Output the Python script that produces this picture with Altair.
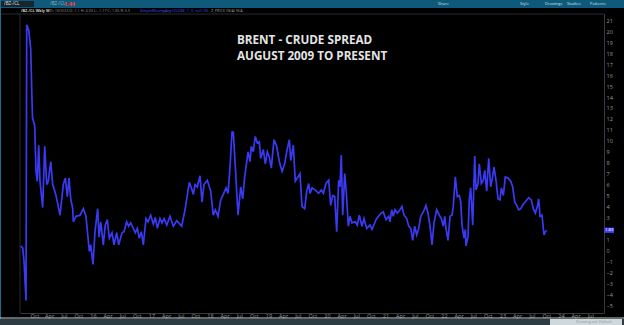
import altair as alt
import pandas as pd

# ---- data (decimal year, Brent - WTI spread in $) ----
t = [2014.764, 2014.798, 2014.821, 2014.855, 2014.867, 2014.901, 2014.935, 2014.957, 2014.966, 2015.003,
     2015.026, 2015.048, 2015.072, 2015.094, 2015.140, 2015.174, 2015.209, 2015.236, 2015.277, 2015.311,
     2015.368, 2015.402, 2015.436, 2015.492, 2015.527, 2015.561, 2015.590, 2015.619, 2015.653, 2015.663,
     2015.709, 2015.778, 2015.834, 2015.880, 2015.937, 2015.961, 2016.000, 2016.034, 2016.080, 2016.103,
     2016.132, 2016.176, 2016.210, 2016.244, 2016.279, 2016.325, 2016.359, 2016.405, 2016.439, 2016.496,
     2016.530, 2016.576, 2016.610, 2016.644, 2016.689, 2016.723, 2016.757, 2016.791, 2016.826, 2016.860,
     2016.906, 2016.940, 2016.986, 2017.031, 2017.065, 2017.099, 2017.145, 2017.180, 2017.214, 2017.260,
     2017.316, 2017.373, 2017.431, 2017.516, 2017.573, 2017.646, 2017.687, 2017.715, 2017.744, 2017.783,
     2017.829, 2017.863, 2017.897, 2017.954, 2018.012, 2018.056, 2018.091, 2018.137, 2018.183, 2018.227,
     2018.274, 2018.308, 2018.342, 2018.376, 2018.398, 2018.433, 2018.479, 2018.525, 2018.559, 2018.593,
     2018.650, 2018.684, 2018.706, 2018.740, 2018.774, 2018.809, 2018.843, 2018.867, 2018.911, 2018.945,
     2018.980, 2019.014, 2019.048, 2019.094, 2019.140, 2019.185, 2019.231, 2019.277, 2019.311, 2019.356,
     2019.380, 2019.424, 2019.458, 2019.504, 2019.538, 2019.573, 2019.619, 2019.653, 2019.687, 2019.709,
     2019.744, 2019.800, 2019.858, 2019.903, 2019.937, 2019.983, 2020.029, 2020.063, 2020.097, 2020.132,
     2020.166, 2020.200, 2020.222, 2020.244, 2020.268, 2020.303, 2020.330, 2020.364, 2020.393, 2020.427,
     2020.484, 2020.518, 2020.552, 2020.598, 2020.632, 2020.679, 2020.735, 2020.769, 2020.838, 2020.894,
     2020.928, 2020.962, 2021.009, 2021.055, 2021.077, 2021.106, 2021.133, 2021.162, 2021.202, 2021.248,
     2021.282, 2021.316, 2021.362, 2021.397, 2021.431, 2021.465, 2021.499, 2021.533, 2021.568, 2021.602,
     2021.646, 2021.692, 2021.726, 2021.761, 2021.795, 2021.829, 2021.875, 2021.920, 2021.954, 2021.988,
     2022.012, 2022.034, 2022.068, 2022.103, 2022.137, 2022.159, 2022.193, 2022.227, 2022.262, 2022.286,
     2022.308, 2022.342, 2022.364, 2022.376, 2022.410, 2022.432, 2022.456, 2022.491, 2022.525, 2022.547,
     2022.581, 2022.603, 2022.638, 2022.672, 2022.696, 2022.730, 2022.764, 2022.798, 2022.821, 2022.855,
     2022.889, 2022.923, 2022.957, 2022.980, 2023.014, 2023.048, 2023.094, 2023.140, 2023.174, 2023.209,
     2023.243, 2023.277, 2023.311, 2023.356, 2023.402, 2023.448, 2023.492, 2023.527, 2023.561, 2023.595,
     2023.619, 2023.641, 2023.675, 2023.709, 2023.732, 2023.756]
v = [0.4, 0.2, -1.0, -4.6, 20.6, 20.1, 18.4, 13.7, 12.1, 11.4,
     7.2, 6.3, 9.6, 6.3, 3.9, 9.5, 6.0, 6.3, 8.1, 6.0,
     5.0, 4.1, 3.2, 6.0, 6.6, 4.9, 6.6, 4.7, 3.8, 2.6,
     3.1, 3.2, 3.8, 3.1, -0.1, 0.5, -1.3, 1.7, 3.8, 1.2,
     2.6, 0.5, 2.3, 2.8, 1.1, 1.6, 0.5, 1.6, 0.5, 1.6,
     1.7, 2.6, 2.2, 2.5, 2.0, 1.6, 2.0, 1.1, 1.7, 0.5,
     2.9, 2.6, 3.2, 2.4, 3.0, 2.0, 2.9, 2.5, 2.9, 2.3,
     3.1, 2.2, 2.7, 2.2, 3.7, 6.2, 5.6, 5.1, 6.0, 5.8,
     6.8, 4.4, 6.0, 6.4, 5.4, 3.2, 3.7, 3.1, 4.6, 5.1,
     5.7, 5.2, 7.6, 10.8, 10.8, 7.6, 3.2, 5.8, 4.7, 6.7,
     9.0, 8.1, 9.5, 9.0, 10.4, 9.8, 9.9, 8.4, 9.2, 7.9,
     9.0, 8.5, 7.5, 10.1, 9.5, 8.1, 7.2, 7.9, 9.0, 10.1,
     8.2, 9.6, 6.3, 6.7, 7.0, 4.0, 3.8, 5.4, 6.1, 5.2,
     5.7, 5.5, 5.2, 5.5, 5.2, 6.1, 6.4, 4.1, 5.0, 4.9,
     1.7, 6.4, 5.8, 8.7, 3.2, 7.0, 5.3, 2.2, 3.1, 2.5,
     2.6, 2.3, 3.2, 2.2, 2.9, 2.0, 2.3, 1.9, 2.8, 3.2,
     3.4, 3.5, 2.8, 3.1, 2.6, 3.7, 3.1, 3.7, 3.4, 3.7,
     4.0, 3.2, 2.9, 2.2, 2.0, 0.9, 2.2, 1.4, 2.0, 3.1,
     3.5, 4.1, 3.4, 2.2, 0.5, 2.5, 3.7, 3.2, 2.9, 2.2,
     3.1, 2.0, 0.9, 3.1, 3.2, 4.0, 6.7, 4.9, 5.0, 4.4,
     2.3, 1.1, 1.9, 0.4, 1.2, 4.6, 5.7, 2.3, 8.6, 5.5,
     6.1, 7.9, 6.1, 6.4, 7.3, 5.4, 8.4, 5.8, 6.4, 7.6,
     6.4, 4.7, 4.6, 5.7, 5.0, 6.7, 6.6, 6.3, 5.8, 4.4,
     4.1, 3.7, 3.8, 4.2, 4.5, 4.8, 4.6, 3.8, 3.4, 4.0,
     4.7, 3.1, 3.2, 1.4, 1.7, 1.83]

x_tick_values = [2015 + q * 0.25 for q in range(39)]
x_tick_labels = ["Oct", "Apr", "Jul", "Oct"]
for yy in range(16, 25):
    x_tick_labels += [str(yy), "Apr", "Jul", "Oct"]
x_tick_labels = x_tick_labels[:39]
# the "2" label sits under the last-value marker in the reference
y_tick_values = [y for y in range(-5, 23) if y != 2]

title_lines = ["BRENT - CRUDE SPREAD", "AUGUST 2009 TO PRESENT"]

df = pd.DataFrame({"t": t, "v": v})
last = df.tail(1).copy()
last["lab"] = last["v"].map(lambda x: f"{x:.2f}")

X_DOM = [2014.752, 2024.735]
Y_DOM = [-5.73, 22.13]
FONT = "Open Sans"

label_expr = "[" + ",".join(f"'{s}'" for s in x_tick_labels) + "][round((datum.value-2015)*4)]"

xs = alt.Scale(domain=X_DOM, nice=False, zero=False)
ys = alt.Scale(domain=Y_DOM, nice=False, zero=False)

y_axis = alt.Axis(
    orient="right", values=y_tick_values, format="d", ticks=False, grid=False,
    domainColor="#3a3a3a", labelColor="#9a9a9a", labelFontSize=5.5, labelFont=FONT,
    labelPadding=2, labelOverlap=False, labelFlush=False, labelBound=False, title=None)

line = alt.Chart(df).mark_line(color="#3a3af4", strokeWidth=1.7, clip=True).encode(
    x=alt.X("t:Q", scale=xs, axis=alt.Axis(
        values=x_tick_values, labelExpr=label_expr, ticks=False, grid=False,
        domainColor="#3a3a3a", labelColor="#9a9a9a", labelFontSize=5.5, labelFont=FONT,
        labelPadding=0, labelOverlap=False, labelFlush=False, title=None)),
    y=alt.Y("v:Q", scale=ys, axis=y_axis),
)

def rect(x1, x2, y1, y2, color):
    return alt.Chart(pd.DataFrame({"a": [0]})).mark_rect(color=color).encode(
        x=alt.value(x1), x2=alt.value(x2), y=alt.value(y1), y2=alt.value(y2))

def rule(x1, x2, y1, y2, color, w=1):
    return alt.Chart(pd.DataFrame({"a": [0]})).mark_rule(color=color, strokeWidth=w).encode(
        x=alt.value(x1), x2=alt.value(x2), y=alt.value(y1), y2=alt.value(y2))

def txt(s, x, y, size, color, weight="normal", align="left"):
    return alt.Chart(pd.DataFrame({"s": [s]})).mark_text(
        align=align, baseline="middle", fontSize=size, font=FONT, fontWeight=weight, color=color
    ).encode(text="s:N", x=alt.value(x), y=alt.value(y))

# header toolbar (plot origin is at page (20, 8))
deco = [
    rect(-20, 604, -8, 0, "#0f5a7a"),
    rect(-19, 14, -7, -1, "#17262c"),
    txt("/BZ-/CL", -16, -4, 4.5, "#e0e0e0"),
    txt("/BZ-/CL", 30, -4, 4.5, "#8fb3c4"),
    txt("1.44", 44, -4, 5.5, "#ff4040", "bold"),
    txt("Share", 418, -4, 4, "#d0e0e8"),
    txt("Style", 500, -4, 4, "#d0e0e8"),
    txt("Drawings", 525, -4, 4, "#d0e0e8"),
    txt("Studies", 547, -4, 4, "#d0e0e8"),
    txt("Patterns", 570, -4, 4, "#d0e0e8"),
    rect(-20, 604, 0, 6, "#000000"),
    txt("/BZ-/CL Wkly W", 1, 3, 3.8, "#d0d0d0", "bold"),
    txt("D: 10/3/23   O: 1.1   H: 4.33   L: -1.17   C: 1.65   R: 5.5", 30, 3, 3.8, "#9a9a9a"),
    txt("SimpleMovingAvg (CLOSE, 1, 0, no)", 120, 3, 3.8, "#4a4aff"),
    txt("1.65", 181, 3, 3.8, "#4a4aff"),
    txt("Z_PRICE (N/A)   N/A", 191, 3, 3.8, "#9a9a9a"),
    rule(-20, 584, 6, 6, "#2a2a2a"),
    rule(0, 0, 6, 305, "#2a2a2a"),
    rect(-20, -19, -8, 317, "#1b6f86"),
    rule(-20, 604, 310, 310, "#c8cfd2"),
    rect(-20, 604, 311, 317, "#2c3c42"),
    rect(530, 602, 311, 317, "#cfd8dc"),
    txt("Drawing set: Default", 556, 314, 3.8, "#8a9aa0"),
]

title = [
    txt(title_lines[0], 217, 32, 11.7, "#e4e4e4", "bold"),
    txt(title_lines[1], 217, 48, 11.7, "#e4e4e4", "bold"),
]

box = alt.Chart(last).transform_calculate(
    y1="datum.v + 0.24", y2="datum.v - 0.24"
).mark_rect(color="#4242ff").encode(
    x=alt.value(584.5), x2=alt.value(594),
    y=alt.Y("y1:Q", scale=ys, axis=y_axis), y2="y2:Q")
box_txt = alt.Chart(last).mark_text(
    align="center", baseline="middle", fontSize=4.2, font=FONT, color="#ffffff"
).encode(x=alt.value(589.2), y=alt.Y("v:Q", scale=ys, axis=y_axis), text="lab:N")

chart = alt.layer(line, *deco, *title, box, box_txt).properties(
    width=584, height=305, background="#000000",
    padding={"left": 20, "top": 8, "right": 20, "bottom": 12},
    autosize=alt.AutoSizeParams(type="none"),
).configure_view(stroke=None).configure_axis(labelOverlap=False)

chart.save("out.html", embed_options={"renderer": "svg", "actions": False})
